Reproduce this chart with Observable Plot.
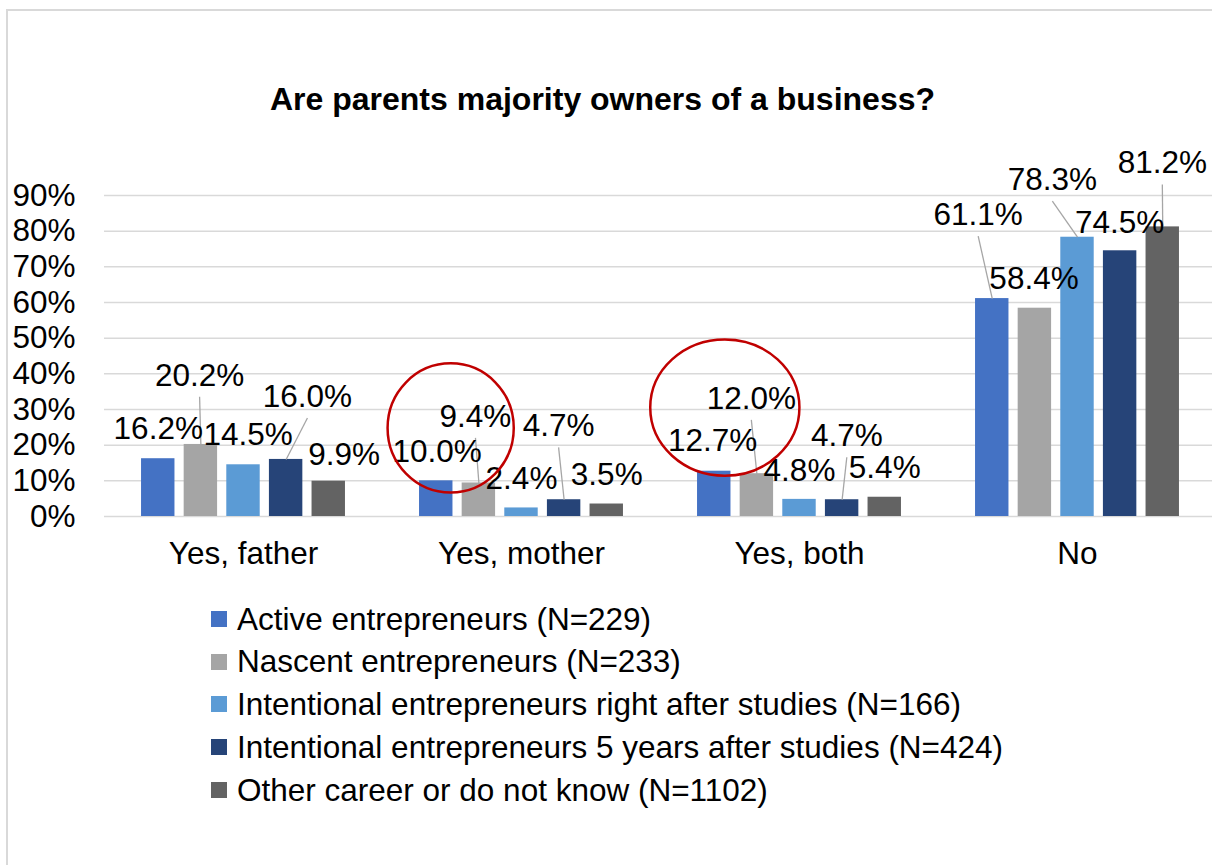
<!DOCTYPE html>
<html><head><meta charset="utf-8">
<script src="https://cdn.jsdelivr.net/npm/d3@7"></script>
<script src="https://cdn.jsdelivr.net/npm/@observablehq/plot@0.6"></script>
<style>
html,body{margin:0;padding:0;background:#fff;overflow:hidden;}
#wrap{position:relative;width:1212px;height:865px;overflow:hidden;background:#fff;font-family:"Liberation Sans",Arial,sans-serif;color:#000;}
#frame{position:absolute;left:6px;top:9px;width:1300px;height:1000px;border-left:2px solid #d9d9d9;border-top:2px solid #d9d9d9;}
#title{position:absolute;left:0;width:1205px;top:84px;text-align:center;font-weight:bold;font-size:32px;line-height:31px;white-space:nowrap;}
#chart{position:absolute;left:0;top:140px;}
#legend{position:absolute;left:211px;top:597.5px;font-size:31.5px;}
.row{display:flex;align-items:center;height:42.8px;line-height:42.8px;white-space:nowrap;}
.sw{width:16px;height:16px;margin-right:10px;flex:none;}
</style>
</head><body>
<div id="wrap">
  <div id="frame"></div>
  <div id="title">Are parents majority owners of a business?</div>
  <div id="chart"></div>
  <div id="legend"></div>
</div>
<script>
// ---- data ----
const categories = ["Yes, father", "Yes, mother", "Yes, both", "No"];
const seriesNames = [
  "Active entrepreneurs (N=229)",
  "Nascent entrepreneurs (N=233)",
  "Intentional entrepreneurs right after studies (N=166)",
  "Intentional entrepreneurs 5 years after studies (N=424)",
  "Other career or do not know (N=1102)"
];
const seriesColors = ["#4472C4", "#A5A5A5", "#5B9BD5", "#264478", "#636363"];
const activeValues     = [16.2, 10.0, 12.7, 61.1];
const nascentValues    = [20.2, 9.4, 12.0, 58.4];
const rightAfterValues = [14.5, 2.4, 4.8, 78.3];
const fiveYearsValues  = [16.0, 4.7, 4.7, 74.5];
const otherValues      = [9.9, 3.5, 5.4, 81.2];
const yTicks = [0, 10, 20, 30, 40, 50, 60, 70, 80, 90];

// ---- manual label placement (as in the original chart) ----
// horizontal shift of each label, in bar steps (per series, per category)
const labelShift = [
  [0, 0.02, -0.04, -0.33],
  [-0.03, -0.08, -0.13, -0.02],
  [0.11, 0, 0, -0.59],
  [0.50, -0.13, 0.11, -0.01],
  [0.36, 0, 0, -0.01]
];
// vertical level of each label centre, in % units
const labelLevel = [
  [24.5, 18.0, 21.2, 84.5],
  [39.5, 27.95, 33.0, 66.5],
  [22.8, 10.65, 12.9, 94.3],
  [33.5, 25.3, 22.5, 82.4],
  [17.2, 11.7, 13.5, 99.0]
];
const leaderLines = [
  [false, false, false, true],
  [true, true, true, false],
  [false, false, false, true],
  [true, true, true, false],
  [false, false, false, true]
];
const leaderGap = 5.9; // % units between label centre and leader start
// red highlight ellipses (annotation), in data units of the facet
const highlights = [
  {cat: "Yes, mother", x: 0.35, y: 24.7, rx: 1.48, ry: 18.1},
  {cat: "Yes, both",   x: 0.26, y: 30.4, rx: 1.75, ry: 19.1}
];

const seriesValues = [activeValues, nascentValues, rightAfterValues, fiveYearsValues, otherValues];
const rows = [];
seriesNames.forEach((s, i) => {
  categories.forEach((c, j) => {
    rows.push({
      cat: c, series: s, i, v: seriesValues[i][j],
      lx: i + labelShift[i][j], ly: labelLevel[i][j], leader: leaderLines[i][j]
    });
  });
});

const pad = 0.761;
const font = "'Liberation Sans', Arial, sans-serif";

const chart = Plot.plot({
  width: 1217,
  height: 440,
  marginLeft: 103,
  marginRight: 0,
  marginTop: 55,
  marginBottom: 64,
  style: {fontFamily: font, fontSize: "31.5px", background: "transparent", color: "#000", maxWidth: "none", overflow: "visible"},
  fx: {domain: categories, padding: 0, axis: "bottom", tickSize: 0, tickPadding: 25, label: null},
  x: {domain: [-0.5 - pad, seriesNames.length - 0.5 + pad], axis: null},
  y: {domain: [0, 90], ticks: yTicks, tickFormat: d => d + "%", tickSize: 0, tickPadding: 29, label: null},
  color: {domain: seriesNames, range: seriesColors},
  marks: [
    Plot.ruleY(yTicks, {stroke: "#d9d9d9", strokeWidth: 1.5}),
    Plot.rect(rows, {
      fx: "cat",
      x1: d => d.i - 0.5, x2: d => d.i + 0.5,
      y1: () => 0, y2: "v",
      fill: "series",
      insetLeft: 4.6, insetRight: 4.6
    }),
    Plot.link(rows.filter(d => d.leader), {
      fx: "cat",
      x1: "lx", y1: d => d.ly - leaderGap,
      x2: "i", y2: "v",
      stroke: "#a6a6a6", strokeWidth: 1.3
    }),
    Plot.text(rows, {
      fx: "cat",
      x: "lx", y: "ly",
      text: d => d.v.toFixed(1) + "%",
      fontSize: 31.5, fill: "#000"
    })
  ]
});

// highlight ellipses placed through the plot's own scales
try {
  const fxS = chart.scale("fx"), xS = chart.scale("x"), yS = chart.scale("y");
  const x0 = xS.apply(xS.domain[0]); // start of the facet's x range
  const svg = d3.select(chart);
  highlights.forEach(h => {
    const cx = fxS.apply(h.cat) + xS.apply(h.x) - x0;
    const cy = yS.apply(h.y);
    svg.append("ellipse")
      .attr("cx", cx).attr("cy", cy)
      .attr("rx", xS.apply(h.x + h.rx) - xS.apply(h.x))
      .attr("ry", yS.apply(h.y - h.ry) - yS.apply(h.y))
      .attr("fill", "none").attr("stroke", "#C00000").attr("stroke-width", 2.5);
  });
} catch (e) { console.error(e); }

document.getElementById("chart").appendChild(chart);

const legend = d3.select("#legend");
seriesNames.forEach((s, i) => {
  const r = legend.append("div").attr("class", "row");
  r.append("div").attr("class", "sw").style("background", seriesColors[i]);
  r.append("span").text(s);
});
</script>
</body></html>
